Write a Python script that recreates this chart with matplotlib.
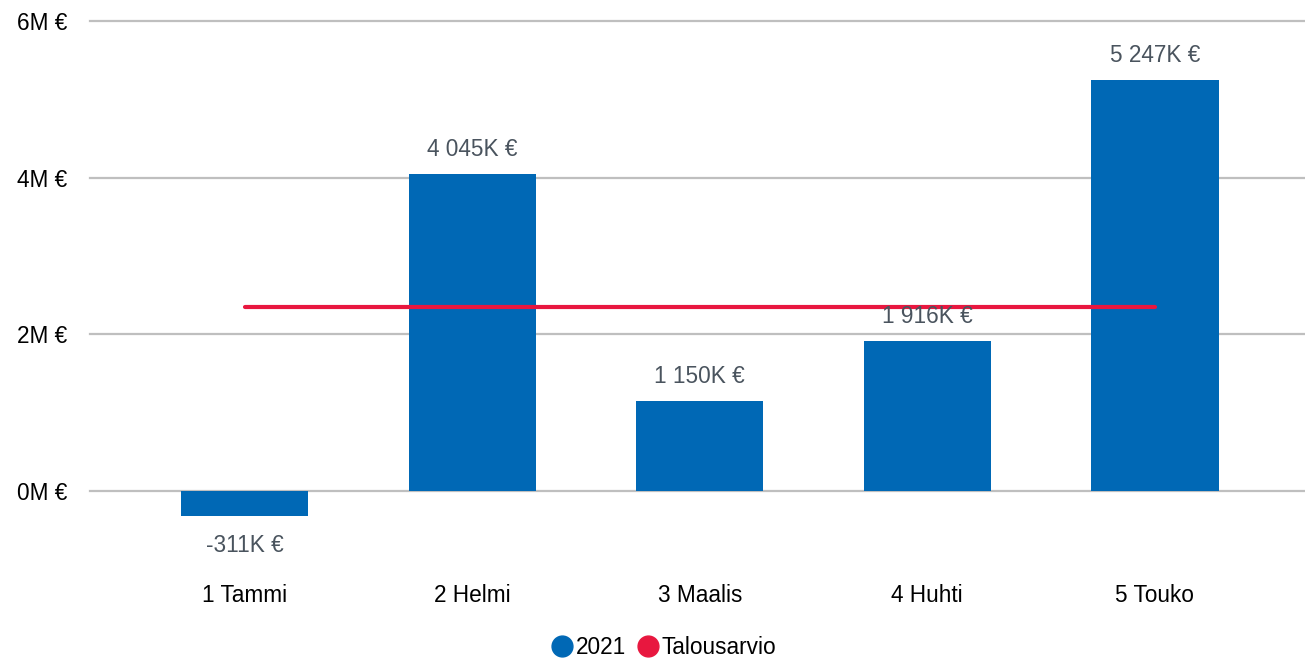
import numpy as np
import matplotlib.pyplot as plt
from matplotlib.lines import Line2D

plt.rcParams['font.family'] = ['Liberation Sans', 'DejaVu Sans']

months = ['1 Tammi', '2 Helmi', '3 Maalis', '4 Huhti', '5 Touko']
actual_2021 = [-311, 4045, 1150, 1916, 5247]  # K €
budget = [2350, 2350, 2350, 2350, 2350]  # K €
bar_labels = ['-311K €', '4 045K €', '1 150K €', '1 916K €', '5 247K €']
y_ticks = [0, 2000, 4000, 6000]
y_tick_labels = ['0M €', '2M €', '4M €', '6M €']

blue = '#0068b5'
red = '#e8173f'
label_col = '#4a545e'
fs = 16.3

fig = plt.figure(figsize=(13.05, 6.6), dpi=100)
ax = fig.add_axes([90 / 1305, 1 - 546 / 660, 1 - 90 / 1305, 525 / 660])

x = np.arange(len(months))
ax.bar(x, actual_2021, width=0.56, color=blue, zorder=2)
ax.plot(x, budget, color=red, linewidth=3, solid_capstyle='round', zorder=3)

for xi, v, lab in zip(x, actual_2021, bar_labels):
    if v >= 0:
        ax.annotate(lab, (xi, v), xytext=(0, 17.5), textcoords='offset points',
                    ha='center', va='center', fontsize=fs, color=label_col)
    else:
        ax.annotate(lab, (xi, v), xytext=(0, -21.5), textcoords='offset points',
                    ha='center', va='center', fontsize=fs, color=label_col)

ax.set_xlim(-0.68, 4.66)
ax.set_ylim(-700, 6000)
ax.set_yticks(y_ticks)
ax.set_yticklabels(y_tick_labels, fontsize=fs)
ax.set_xticks(x)
ax.set_xticklabels(months, fontsize=fs)
ax.tick_params(axis='both', length=0)
ax.tick_params(axis='x', pad=27)
ax.tick_params(axis='y', pad=16.5)
for yt in y_ticks:
    ax.axhline(yt, color='#bfbfbf', linewidth=1.6, zorder=1, clip_on=False)
for s in ax.spines.values():
    s.set_visible(False)

handles = [
    Line2D([], [], marker='o', linestyle='', markersize=15, color=blue),
    Line2D([], [], marker='o', linestyle='', markersize=15, color=red),
]
fig.legend(handles, ['2021', 'Talousarvio'], loc='center',
           bbox_to_anchor=(0.5 + 11 / 1305, 1 - 647 / 660),
           ncol=2, frameon=False, fontsize=fs, handletextpad=0.1, columnspacing=0.45,
           handlelength=1.0)

fig.savefig('out.png', dpi=100)
